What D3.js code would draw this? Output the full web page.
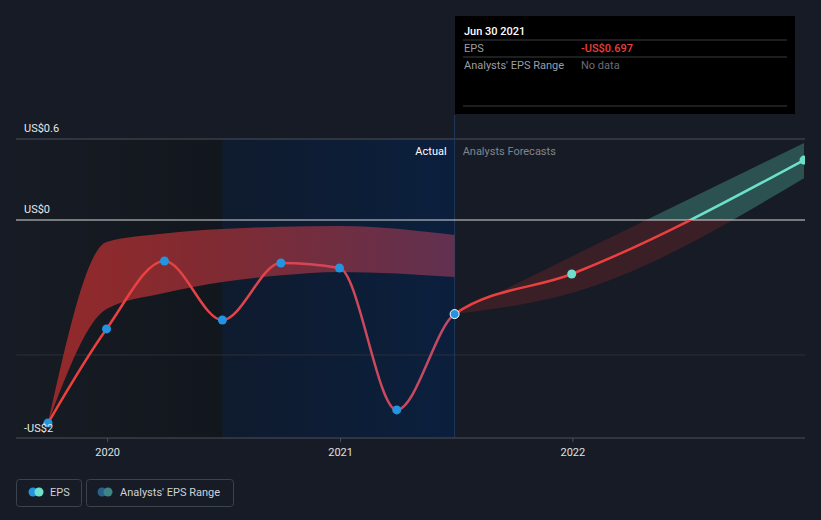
<!DOCTYPE html>
<html><head><meta charset="utf-8">
<script src="https://cdn.jsdelivr.net/npm/d3@7"></script>
<style>
html,body{margin:0;padding:0;background:#161b25;}
svg{display:block;font-family:Roboto,"Open Sans",sans-serif;}
</style></head>
<body>
<svg id="chart" width="821" height="520"></svg>
<script>
// ---- data ----
const actualDates = ["2019-09-30","2019-12-31","2020-03-31","2020-06-30","2020-09-30","2020-12-31","2021-03-31","2021-06-30"];
const actualEPS = [-1.504, -0.807, -0.304, -0.741, -0.319, -0.356, -1.407, -0.697];
const pastRangeDates = ["2019-09-30","2019-12-31","2020-03-31","2020-06-30","2020-09-30","2020-12-31","2021-06-30"];
const pastRangeHigh = [-1.504, -0.163, -0.10, -0.067, -0.05, -0.044, -0.111];
const pastRangeLow  = [-1.504, -0.659, -0.54, -0.459, -0.41, -0.385, -0.422];
const forecastDates = ["2021-06-30","2021-12-31","2022-12-31"];
const forecastEPS = [-0.697, -0.40, 0.444];
const forecastHigh = [-0.697, -0.27, 0.57];
const forecastLow  = [-0.697, -0.54, 0.31];
const yTickValues = [0.6, 0, -1.615];
const yTickLabels = ["US$0.6", "US$0", "-US$2"];
const xTickLabels = ["2020", "2021", "2022"];
const tooltipDate = "Jun 30 2021";
const tooltipEPS = "-US$0.697";
const tooltipRange = "No data";

const parse = d3.timeParse("%Y-%m-%d");
const svg = d3.select("#chart");
const W = 821, H = 520;
const pLeft = 16, pRight = 805, pTop = 139, pBottom = 438;

const x = d3.scaleTime().domain([parse("2019-09-30"), parse("2022-12-31")]).range([48, 804]);
const y = d3.scaleLinear().domain([-1.615, 0.6]).range([pBottom, pTop]);

const defs = svg.append("defs");
const xNow = x(parse("2021-06-30"));
const xYearAgo = x(parse("2020-06-30"));

// backgrounds
const g1 = defs.append("linearGradient").attr("id","leftShade").attr("x1","0").attr("x2","1");
g1.append("stop").attr("offset","0").attr("stop-color","#171b23");
g1.append("stop").attr("offset","1").attr("stop-color","#12161d");
svg.append("rect").attr("x", pLeft).attr("y", pTop).attr("width", xYearAgo-pLeft).attr("height", pBottom-pTop).attr("fill","url(#leftShade)");
const g2 = defs.append("linearGradient").attr("id","navy").attr("x1","0").attr("x2","1");
g2.append("stop").attr("offset","0").attr("stop-color","#0f1b2e");
g2.append("stop").attr("offset","1").attr("stop-color","#0b1f3d");
svg.append("rect").attr("x", xYearAgo).attr("y", pTop).attr("width", xNow-xYearAgo).attr("height", pBottom-pTop).attr("fill","url(#navy)");

// gridlines
svg.append("line").attr("x1",pLeft).attr("x2",pRight).attr("y1",y(0.6)).attr("y2",y(0.6)).attr("stroke","#4a505b").attr("stroke-width",1);
svg.append("line").attr("x1",pLeft).attr("x2",pRight).attr("y1",y(-1)).attr("y2",y(-1)).attr("stroke","#2a303a").attr("stroke-width",1);
svg.append("line").attr("x1",xNow).attr("x2",xNow).attr("y1",115).attr("y2",pBottom).attr("stroke","#1f3a5c").attr("stroke-width",1);

// clip paths
defs.append("clipPath").attr("id","plot").append("rect").attr("x",0).attr("y",0).attr("width",pRight).attr("height",H);
defs.append("clipPath").attr("id","past").append("rect").attr("x",0).attr("y",0).attr("width",xNow).attr("height",H);
defs.append("clipPath").attr("id","above").append("rect").attr("x",xNow).attr("y",0).attr("width",pRight-xNow).attr("height",y(0));
defs.append("clipPath").attr("id","below").append("rect").attr("x",xNow).attr("y",y(0)).attr("width",pRight-xNow).attr("height",H-y(0));

// past analyst range band
const pastBand = pastRangeDates.map((d,i)=>({d:parse(d),hi:pastRangeHigh[i],lo:pastRangeLow[i]}));
const g3 = defs.append("linearGradient").attr("id","pastBand").attr("gradientUnits","userSpaceOnUse")
  .attr("x1",48).attr("x2",xNow).attr("y1",0).attr("y2",0);
g3.append("stop").attr("offset","0").attr("stop-color","#a12b2b");
g3.append("stop").attr("offset","0.45").attr("stop-color","#8a2d35");
g3.append("stop").attr("offset","1").attr("stop-color","#6a3352");
svg.append("path").datum(pastBand)
  .attr("d", d3.area().x(d=>x(d.d)).y0(d=>y(d.lo)).y1(d=>y(d.hi)).curve(d3.curveMonotoneX))
  .attr("fill","url(#pastBand)").attr("opacity",0.9);

// forecast band (split at zero)
const fBand = forecastDates.map((d,i)=>({d:parse(d),hi:forecastHigh[i],lo:forecastLow[i]}));
const fArea = d3.area().x(d=>x(d.d)).y0(d=>y(d.lo)).y1(d=>y(d.hi)).curve(d3.curveMonotoneX);
svg.append("path").datum(fBand).attr("d",fArea).attr("fill","#3a1f27").attr("clip-path","url(#below)");
svg.append("path").datum(fBand).attr("d",fArea).attr("fill","#2b5151").attr("clip-path","url(#above)");

// zero line
svg.append("line").attr("x1",pLeft).attr("x2",pRight).attr("y1",y(0)).attr("y2",y(0)).attr("stroke","#d8d8d8").attr("stroke-width",1.2);

// EPS line: one continuous curve through actual + forecast points, coloured by segment
const act = actualDates.map((d,i)=>({d:parse(d),v:actualEPS[i]}));
const fc = forecastDates.map((d,i)=>({d:parse(d),v:forecastEPS[i]}));
const all = act.concat(fc.slice(1));
const g4 = defs.append("linearGradient").attr("id","lineGrad").attr("gradientUnits","userSpaceOnUse")
  .attr("x1",48).attr("x2",xNow).attr("y1",0).attr("y2",0);
g4.append("stop").attr("offset","0").attr("stop-color","#ee3f3b");
g4.append("stop").attr("offset","0.45").attr("stop-color","#e2434a");
g4.append("stop").attr("offset","1").attr("stop-color","#c04a66");
const line = d3.line().x(d=>x(d.d)).y(d=>y(d.v)).curve(d3.curveMonotoneX);
svg.append("path").datum(all).attr("d",line).attr("fill","none").attr("stroke","url(#lineGrad)").attr("stroke-width",2.5).attr("clip-path","url(#past)");
svg.append("path").datum(all).attr("d",line).attr("fill","none").attr("stroke","#e8413f").attr("stroke-width",2.5).attr("clip-path","url(#below)");
svg.append("path").datum(all).attr("d",line).attr("fill","none").attr("stroke","#6de0cc").attr("stroke-width",2.5).attr("clip-path","url(#above)");

// dots
svg.selectAll(".adot").data(act).join("circle").attr("class","adot")
  .attr("cx",d=>x(d.d)).attr("cy",d=>y(d.v)).attr("r",4.5)
  .attr("fill","#2394e0")
  .attr("stroke",(d,i)=> i===act.length-1 ? "#ffffff" : "none").attr("stroke-width",1);
svg.append("g").attr("clip-path","url(#plot)").selectAll(".fdot").data(fc.slice(1)).join("circle").attr("class","fdot")
  .attr("cx",d=>x(d.d)).attr("cy",d=>y(d.v)).attr("r",4.5).attr("fill","#6de0cc");

// x axis
svg.append("line").attr("x1",pLeft).attr("x2",pRight).attr("y1",pBottom).attr("y2",pBottom).attr("stroke","#4a505b");
const xTicks = xTickLabels.map(t=>parse(t+"-01-01"));
const xa = svg.append("g").attr("transform",`translate(0,${pBottom})`)
  .call(d3.axisBottom(x).tickValues(xTicks).tickFormat((d,i)=>xTickLabels[i]).tickSize(4).tickPadding(6));
xa.select(".domain").remove();
xa.selectAll("line").attr("stroke","#4a505b");
xa.selectAll("text").attr("fill","#e0e0e0").attr("font-size",11).attr("font-family","Roboto,sans-serif");

// y labels
svg.selectAll(".ylab").data(yTickValues).join("text").attr("class","ylab")
  .attr("x",24).attr("y",(d,i)=> i===2 ? y(d)-6 : y(d)-7)
  .attr("fill","#e8e8e8").attr("font-size",11).text((d,i)=>yTickLabels[i]);

// section labels
svg.append("text").attr("x",xNow-8).attr("y",155).attr("text-anchor","end").attr("fill","#ffffff").attr("font-size",11).text("Actual");
svg.append("text").attr("x",xNow+8).attr("y",155).attr("fill","#80858e").attr("font-size",11).text("Analysts Forecasts");

// tooltip
const tt = svg.append("g");
tt.append("rect").attr("x",455).attr("y",16).attr("width",340).attr("height",98).attr("fill","#000000");
tt.append("text").attr("x",464).attr("y",35).attr("fill","#ffffff").attr("font-size",11).attr("font-weight",500).text(tooltipDate);
[40,57,106].forEach(yy=>tt.append("line").attr("x1",463).attr("x2",787).attr("y1",yy).attr("y2",yy).attr("stroke","#3a3d42"));
tt.append("text").attr("x",464).attr("y",52).attr("fill","#9a9ea5").attr("font-size",11).text("EPS");
tt.append("text").attr("x",581).attr("y",52).attr("fill","#e8413f").attr("font-size",11).attr("font-weight",500).text(tooltipEPS);
tt.append("text").attr("x",464).attr("y",69).attr("fill","#9a9ea5").attr("font-size",11).text("Analysts' EPS Range");
tt.append("text").attr("x",581).attr("y",69).attr("fill","#6a6e75").attr("font-size",11).text(tooltipRange);

// legend
const lg = svg.append("g");
lg.append("rect").attr("x",16.5).attr("y",479.5).attr("width",65).attr("height",27).attr("rx",3).attr("fill","none").attr("stroke","#3d434d");
lg.append("circle").attr("cx",33).attr("cy",492).attr("r",4.5).attr("fill","#2394e0");
lg.append("circle").attr("cx",39).attr("cy",492).attr("r",4.5).attr("fill","#6de0cc");
lg.append("text").attr("x",50).attr("y",496).attr("fill","#cfd2d6").attr("font-size",11).text("EPS");
lg.append("rect").attr("x",86.5).attr("y",479.5).attr("width",147).attr("height",27).attr("rx",3).attr("fill","none").attr("stroke","#3d434d");
lg.append("circle").attr("cx",102).attr("cy",492).attr("r",4.5).attr("fill","#2a5f8a");
lg.append("circle").attr("cx",108).attr("cy",492).attr("r",4.5).attr("fill","#3d8585");
lg.append("text").attr("x",120).attr("y",496).attr("fill","#cfd2d6").attr("font-size",11).text("Analysts' EPS Range");
</script>
</body></html>
